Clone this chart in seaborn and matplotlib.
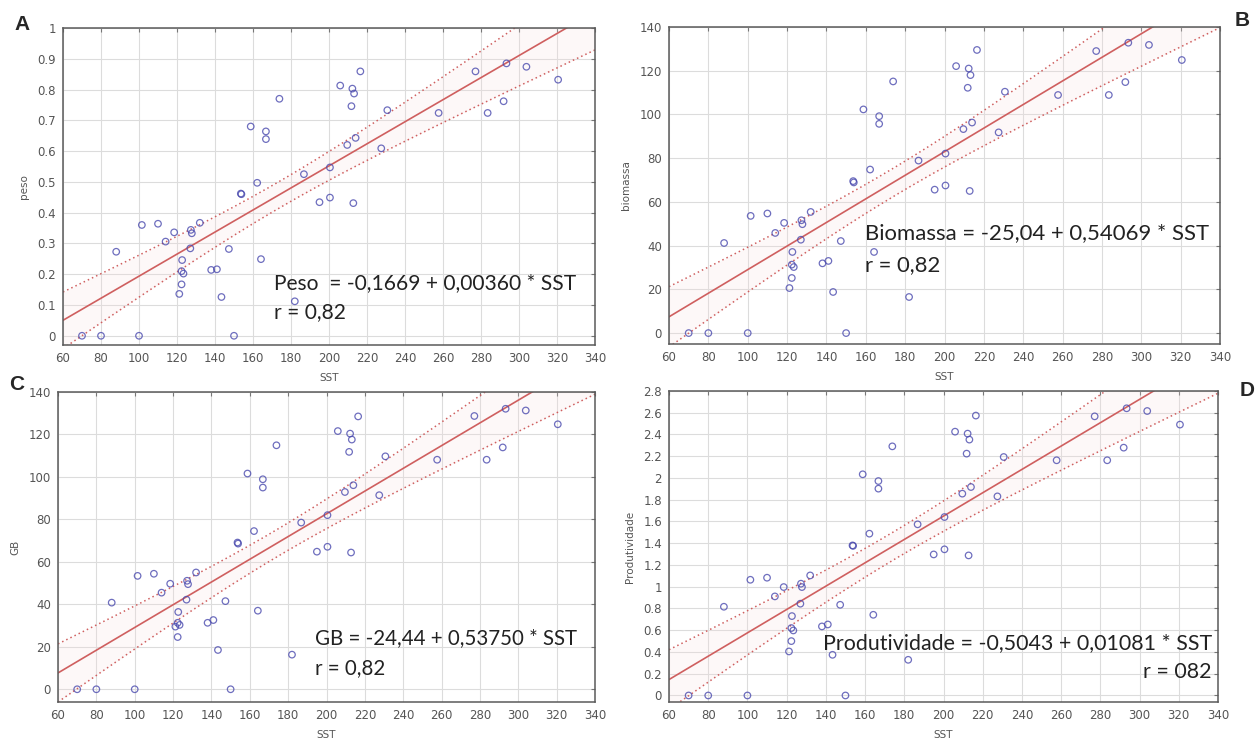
import numpy as np
import matplotlib
matplotlib.use("Agg")
import matplotlib.pyplot as plt
from matplotlib.ticker import FormatStrFormatter
import seaborn as sns

# dados (mesmos SST nos quatro paineis)
sst = [70, 80, 100, 150, 88, 101.5, 110, 114, 118.5, 127.3, 127.8, 132, 127,
       122.7, 122.4, 123.4, 122.4, 121.2, 138, 141, 143.4, 147.3, 153.6, 153.9,
       158.8, 162.2, 164.2, 166.8, 166.8, 173.9, 182, 186.8, 195, 200.5, 200.5,
       205.9, 212.3, 213.2, 211.8, 216.5, 209.6, 214, 212.8, 227.5, 230.7,
       257.7, 277.1, 283.5, 291.9, 293.4, 303.9, 320.6]

peso = [0, 0, 0, 0, 0.273, 0.360, 0.364, 0.306, 0.336, 0.344, 0.333, 0.367,
        0.284, 0.246, 0.210, 0.202, 0.167, 0.136, 0.214, 0.216, 0.126, 0.282,
        0.462, 0.460, 0.680, 0.497, 0.249, 0.664, 0.639, 0.770, 0.112, 0.525,
        0.434, 0.449, 0.547, 0.813, 0.803, 0.787, 0.746, 0.859, 0.620, 0.643,
        0.431, 0.609, 0.733, 0.724, 0.859, 0.724, 0.762, 0.885, 0.874, 0.832]

biomassa = [0, 0, 0, 0, 41.2, 53.6, 54.7, 45.8, 50.4, 51.6, 49.8, 55.4, 42.7,
            37.1, 31.3, 30.2, 25.2, 20.6, 31.9, 33.0, 18.8, 42.1, 69.5, 68.9,
            102.3, 74.8, 37.1, 99.2, 95.7, 115.1, 16.5, 78.9, 65.6, 67.5, 82.1,
            122.1, 121.0, 118.0, 112.2, 129.5, 93.3, 96.3, 65.0, 91.8, 110.4,
            108.9, 129.0, 108.9, 114.8, 132.8, 131.8, 124.9]

gb = [0, 0, 0, 0, 40.8, 53.4, 54.4, 45.5, 49.7, 51.1, 49.5, 55.0, 42.2, 36.4,
      31.3, 30.3, 24.6, 29.5, 31.3, 32.6, 18.5, 41.5, 69.1, 68.6, 101.6, 74.5,
      37.0, 98.9, 95.0, 114.9, 16.3, 78.5, 64.8, 67.1, 82.0, 121.6, 120.4,
      117.6, 111.8, 128.5, 92.9, 96.1, 64.4, 91.4, 109.7, 108.1, 128.7, 108.1,
      113.9, 132.1, 131.3, 124.8]

produtividade = [0, 0, 0, 0, 0.816, 1.064, 1.083, 0.911, 0.997, 1.028, 0.997,
                 1.104, 0.844, 0.730, 0.620, 0.598, 0.500, 0.405, 0.635, 0.653,
                 0.374, 0.834, 1.380, 1.376, 2.034, 1.488, 0.742, 1.972, 1.902,
                 2.291, 0.328, 1.574, 1.297, 1.344, 1.641, 2.426, 2.408, 2.353,
                 2.224, 2.574, 1.856, 1.917, 1.288, 1.831, 2.193, 2.163, 2.567,
                 2.163, 2.279, 2.641, 2.616, 2.491]

ylabels = ["peso", "biomassa", "GB", "Produtividade"]
letras = ["A", "B", "C", "D"]
equacoes = ["Peso  = -0,1669 + 0,00360 * SST",
            "Biomassa = -25,04 + 0,54069 * SST",
            "GB = -24,44 + 0,53750 * SST",
            "Produtividade = -0,5043 + 0,01081 * SST"]
r_textos = ["r = 0,82", "r = 0,82", "r = 0,82", "r = 082"]

sns.set_style("white")
plt.rcParams["font.family"] = ["DejaVu Sans"]

W, H = 1258, 743
fig = plt.figure(figsize=(W / 100, H / 100), dpi=100)

# caixas dos paineis em pixels: esquerda, direita, topo, base
caixas = [(63, 595, 28, 345), (669, 1220, 27, 344),
          (58, 595, 392, 702), (669, 1218, 391, 702)]
ylims = [(-0.03, 1.0), (-5, 140), (-6, 140), (-0.06, 2.8)]
yticks = [np.arange(0, 1.01, 0.1), np.arange(0, 141, 20),
          np.arange(0, 141, 20), np.arange(0, 2.81, 0.2)]
# posicao da equacao (x, y) e do r (y), em fracao do eixo
pos_eq = [(0.397, 0.196, 0.104), (0.356, 0.350, 0.249),
          (0.479, 0.206, 0.110), (0.280, 0.190, 0.096)]
tam_eq = [15.1, 15.9, 14.8, 15.4]
pos_letra = [(22, 24), (1242, 20), (17, 385), (1247, 390)]

azul = "#4a4aae"
vermelho = "#cf5f5f"

series = [peso, biomassa, gb, produtividade]
x = np.array(sst)

for i, y in enumerate(series):
    l, r, t, b = caixas[i]
    ax = fig.add_axes([l / W, 1 - b / H, (r - l) / W, (b - t) / H])
    ax.set_xlim(60, 340)
    ax.set_ylim(*ylims[i])

    # faixa de confianca 95% da reta
    y = np.array(y)
    n = len(x)
    b1, b0 = np.polyfit(x, y, 1)
    res = y - (b0 + b1 * x)
    s = np.sqrt(np.sum(res ** 2) / (n - 2))
    xs = np.linspace(60, 340, 200)
    se = s * np.sqrt(1 / n + (xs - x.mean()) ** 2 / np.sum((x - x.mean()) ** 2))
    yh = b0 + b1 * xs
    ax.fill_between(xs, yh - 2.01 * se, yh + 2.01 * se, color="#f8dede",
                    alpha=0.2, lw=0, zorder=1)
    ax.plot(xs, yh + 2.01 * se, ls=(0, (1, 2)), color=vermelho, lw=1.1, zorder=2)
    ax.plot(xs, yh - 2.01 * se, ls=(0, (1, 2)), color=vermelho, lw=1.1, zorder=2)

    sns.regplot(x=x, y=y, ax=ax, ci=None, truncate=False, marker="o",
                scatter_kws=dict(s=22, facecolors="none", edgecolors=azul,
                                 linewidths=0.9, zorder=3),
                line_kws=dict(color=vermelho, lw=1.2, zorder=2))

    ax.set_xticks(np.arange(60, 341, 20))
    ax.set_yticks(yticks[i])
    ax.yaxis.set_major_formatter(FormatStrFormatter("%g"))
    ax.grid(True, color="#dcdcdc", lw=0.8)
    ax.set_axisbelow(True)
    for sp in ax.spines.values():
        sp.set_color("#5a5a5a")
        sp.set_linewidth(1.1)
    ax.tick_params(direction="in", length=3, width=0.8, top=True, right=True,
                   labelsize=8.5, labelcolor="#555555", color="#777777", pad=5)
    ax.set_xlabel("SST", fontsize=7.5, color="#555555", labelpad=6)
    ax.set_ylabel(ylabels[i], fontsize=7.5, color="#555555", labelpad=6)

    ex, ey, ry = pos_eq[i]
    fonte = ["Lato", "DejaVu Sans"]
    ax.text(ex, ey, equacoes[i], transform=ax.transAxes, fontsize=tam_eq[i],
            family=fonte, color="#222222", va="center")
    if i == 3:
        ax.text(0.989, ry, r_textos[i], transform=ax.transAxes,
                fontsize=tam_eq[i], family=fonte, color="#222222",
                va="center", ha="right")
    else:
        ax.text(ex, ry, r_textos[i], transform=ax.transAxes,
                fontsize=tam_eq[i], family=fonte, color="#222222", va="center")

    px, py = pos_letra[i]
    fig.text(px / W, 1 - py / H, letras[i], fontsize=15, fontweight="bold",
             ha="center", va="center", family=["Liberation Sans", "DejaVu Sans"])

fig.savefig("out.png", dpi=100)
